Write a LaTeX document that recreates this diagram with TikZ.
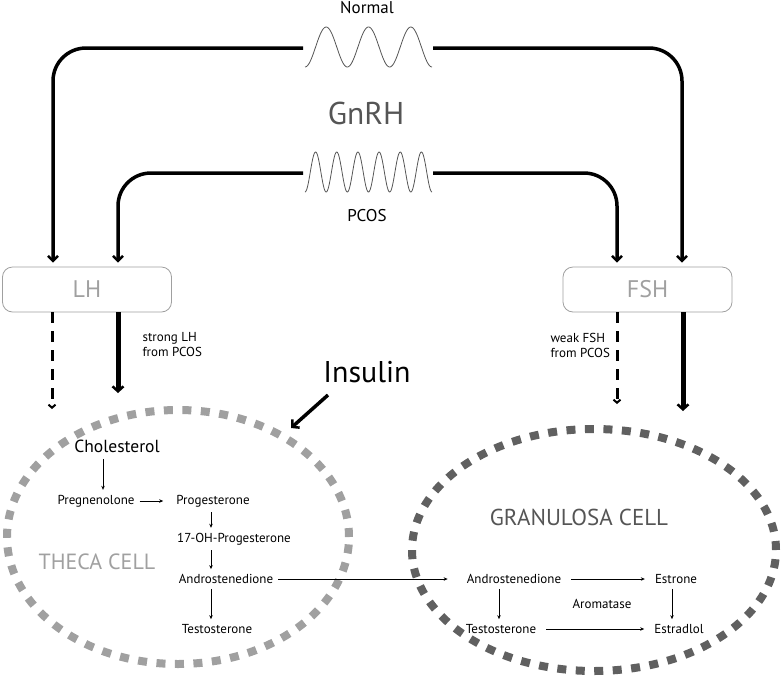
\documentclass[tikz,border=0pt]{standalone}
\usepackage{fontspec}
\setmainfont{PT Sans}
\usetikzlibrary{arrows.meta,positioning,calc}
\definecolor{lgr}{RGB}{160,160,160}
\definecolor{dgr}{RGB}{96,96,96}
\definecolor{tgr}{RGB}{85,85,85}

\begin{document}
\begin{tikzpicture}[x=1pt,y=-1pt,font=\fontsize{13}{15}\selectfont,
  hb/.style={draw=lgr,line width=0.8pt,rounded corners=10pt,minimum width=169pt,minimum height=45pt,
    text=lgr,font=\fontsize{24}{26}\selectfont},
  big/.style={line width=3.5pt,-{Straight Barb[length=5pt,width=10pt,line width=2.5pt]}},
  sa/.style={line width=0.7pt,-{Stealth[length=4pt,width=3.5pt]},shorten <=3pt,shorten >=3pt},
  sm/.style={inner sep=2pt},
  cell/.style={line width=8pt,dash pattern=on 9pt off 9.5pt},
  wv/.style={line width=0.8pt,tgr}]
\useasboundingbox (0,0) rectangle (782,689);

% GnRH pulses
\node[font=\fontsize{17}{19}\selectfont] (nor) at (367,8) {Normal};
\node[text=tgr,font=\fontsize{31.5}{34}\selectfont] (gn) at (366,113) {GnRH};
\node[font=\fontsize{17}{19}\selectfont] (pc) at (367,216) {PCOS};
\draw[wv] plot[domain=305:432,samples=120] (\x,{47+20*cos(8.50394*(\x-305))});
\draw[wv] plot[domain=305:432,samples=200] (\x,{172+20*cos(17.00787*(\x-305))});
\coordinate (nw) at (303,48); \coordinate (ne) at (433,48);
\coordinate (pw) at (303,173); \coordinate (pe) at (433,173);

% pituitary
\node[hb] (lh) at (87,289.5) {LH};
\node[hb] (fsh) at (647.5,289.5) {FSH};
\draw[big,rounded corners=33pt] (nw) -| ([xshift=-34pt,yshift=4pt]lh.north);
\draw[big,rounded corners=33pt] (pw) -| ([xshift=31pt,yshift=4pt]lh.north);
\draw[big,rounded corners=33pt] (pe) -| ([xshift=-30.5pt,yshift=4pt]fsh.north);
\draw[big,rounded corners=33pt] (ne) -| ([xshift=34.5pt,yshift=4pt]fsh.north);

% cells
\draw[cell,lgr] (178,537) ellipse [x radius=171pt,y radius=127pt];
\draw[cell,dgr] (594,550) ellipse [x radius=182pt,y radius=121pt];
\node[text=lgr,font=\fontsize{22}{24}\selectfont] (th) at (97,562) {THECA CELL};
\node[text=tgr,font=\fontsize{23}{25}\selectfont] (gr) at (579,517) {GRANULOSA CELL};

% hormones to cells
\coordinate (lhd) at (52,409); \coordinate (lhs) at (118,393);
\coordinate (fsd) at (617,404); \coordinate (fss) at (683,411);
\draw[line width=3pt,dash pattern=on 11pt off 8pt,-{Straight Barb[length=3pt,width=7pt,line width=2pt]}]
  ([xshift=-35pt]lh.south) -- (lhd);
\draw[line width=5pt,-{Straight Barb[length=5pt,width=11pt,line width=2.5pt]}] ([xshift=31pt]lh.south) -- (lhs);
\draw[line width=3pt,dash pattern=on 11pt off 8pt,-{Straight Barb[length=3pt,width=7pt,line width=2pt]}]
  ([xshift=-30.5pt]fsh.south) -- (fsd);
\draw[line width=5pt,-{Straight Barb[length=5pt,width=11pt,line width=2.5pt]}] ([xshift=35.5pt]fsh.south) -- (fss);
\node[align=left,anchor=west] (slh) at (139,345) {strong LH\\from PCOS};
\node[align=left,anchor=west] (wfsh) at (547,345) {weak FSH\\from PCOS};

% insulin
\node[font=\fontsize{30}{32}\selectfont] (ins) at (367,372) {Insulin};
\coordinate (it) at (291,428);
\draw[line width=3.5pt,-{Straight Barb[length=5pt,width=11pt,line width=2.5pt]}] (328,395) -- (it);

% theca pathway
\node[font=\fontsize{17.5}{19}\selectfont] (chol) at (117,446) {Cholesterol};
\node[sm] (preg) at (96,501) {Pregnenolone};
\node[sm] (prog) at (213,501) {Progesterone};
\node[sm] (ohp) at (234,539) {17-OH-Progesterone};
\node[sm] (and1) at (226,579) {Androstenedione};
\node[sm] (tes1) at (217,629) {Testosterone};
\draw[sa] ([xshift=-14pt]chol.south) -- ([xshift=-14pt]chol.south |- preg.north);
\draw[sa,shorten >=11pt] (preg) -- (prog);
\draw[sa] ([xshift=-2pt]prog.south) -- ([xshift=-2pt]prog.south |- ohp.north);
\draw[sa] ([xshift=-2pt]prog.south |- ohp.south) -- ([xshift=-2pt]prog.south |- and1.north);
\draw[sa] ([xshift=-2pt]prog.south |- and1.south) -- ([xshift=-2pt]prog.south |- tes1.north);

% granulosa pathway
\node[sm] (and2) at (514,579) {Androstenedione};
\node[sm] (estr) at (676,579) {Estrone};
\node[sm] (arom) at (602,604) {Aromatase};
\node[sm] (tes2) at (501,629) {Testosterone};
\node[sm] (estd) at (679,629) {Estradlol};
\draw[sa,shorten >=17pt] (and1) -- (and2);
\draw[sa,shorten <=8pt,shorten >=8pt] (and2) -- (estr);
\draw[sa,shorten <=8pt,shorten >=8pt] (tes2) -- (estd);
\draw[sa] ([xshift=-2pt]tes2.north |- and2.south) -- ([xshift=-2pt]tes2.north);
\draw[sa] ([xshift=-4pt]estr.south) -- ([xshift=-4pt]estr.south |- estd.north);
\end{tikzpicture}
\end{document}
